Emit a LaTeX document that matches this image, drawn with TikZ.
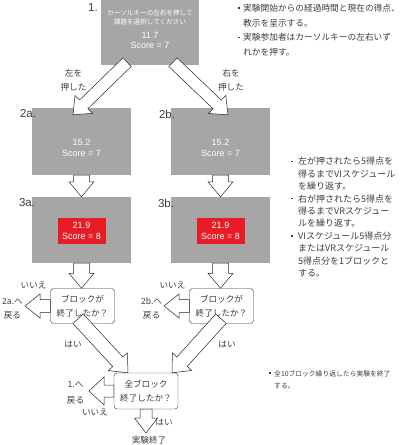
\documentclass[tikz,border=0pt]{standalone}
\usepackage{fontspec}
\setmainfont{Liberation Sans}
\newfontfamily\jp{Noto Sans CJK JP}
\usepackage{tikz}
\usetikzlibrary{calc,positioning}

\definecolor{boxgray}{RGB}{166,166,166}
\definecolor{boxred}{RGB}{232,28,36}
\definecolor{inkgray}{RGB}{60,60,60}

\newcommand{\jpsize}[2]{\jp\fontsize{#1}{#2}\selectfont}
\newcommand{\nb}[1][5pt]{\makebox[#1][l]{\rule[0.3em]{1.6pt}{1.6pt}}}
\newcommand{\nbskip}[1][5pt]{\hspace*{#1}}
% block arrow: from, to, shaft half width, head half width
\newcommand{\blockarrow}[4]{%
  \coordinate (ba-s) at (#1);
  \coordinate (ba-t) at (#2);
  \coordinate (ba-b) at ($(ba-t)!15pt!(ba-s)$);
  \draw[blockarr] ($(ba-s)!#3!90:(ba-t)$) -- ($(ba-b)!#3!-90:(ba-s)$)
    -- ($(ba-b)!#4!-90:(ba-s)$) -- (ba-t) -- ($(ba-b)!#4!90:(ba-s)$)
    -- ($(ba-b)!#3!90:(ba-s)$) -- ($(ba-s)!#3!-90:(ba-t)$) -- cycle;
}

\begin{document}
\begin{tikzpicture}[x=1pt,y=-1pt,
    graybox/.style={fill=boxgray,inner sep=0pt,minimum width=99pt,minimum height=66pt},
    redbox/.style={fill=boxred,inner sep=0pt,minimum width=48pt,minimum height=26pt},
    boxnum/.style={text=white,align=center,inner sep=0pt,font=\fontsize{9}{11}\selectfont},
    askbox/.style={draw=black!80,rounded corners=3pt,fill=white,minimum width=64pt,
      minimum height=35pt,inner sep=0pt,align=center,text=inkgray,font=\jpsize{8.6}{14}},
    steplabel/.style={text=inkgray,inner sep=0pt,font=\fontsize{11.5}{12}\selectfont},
    note/.style={text=inkgray,inner sep=0pt,align=center,font=\jpsize{8.6}{14}},
    notelist/.style={text=inkgray,inner sep=0pt,align=left,anchor=north west},
    blockarr/.style={draw=black!85,fill=white,line width=0.5pt}]
  \useasboundingbox (0,0) rectangle (400,445);

  % 1. start screen
  \node[graybox,minimum width=98pt,minimum height=65pt] (start) at (150,32.5) {};
  \node[boxnum,font=\jpsize{6.6}{9}] (startmsg) at (150,17.5)
    {カーソルキーの左右を押して\\課題を選択してください};
  \node[boxnum,font=\fontsize{9}{10}\selectfont] (starttime) at (150,40) {11.7\\Score = 7};
  \node[steplabel] (lab1) at (93,8) {1.};

  % 2./3. both schedules
  \foreach \s/\x in {a/81.5,b/220.5}{
    \node[graybox,minimum height=67pt] (wait\s) at (\x,141.5) {};
    \node[boxnum] (waitnum\s) at (\x,147.5) {15.2\\Score = 7};
    \node[steplabel] (labwait\s) at ({\x-53.5},114) {2\s.};
    \node[graybox] (hit\s) at (\x,230) {};
    \node[redbox] (hitred\s) at (\x,231) {};
    \node[boxnum] (hitnum\s) at (\x,231) {21.9\\Score = 8};
    \node[steplabel] (labhit\s) at ({\x-54.5},203) {3\s.};
    \node[askbox] (ask\s) at ({\x+1},306) {ブロックが\\終了したか？};
    \node[note] (no\s) at ({\x-48},285) {いいえ};
    \node[note,font=\jpsize{8.6}{13.5}] (back\s) at ({\x-69},308.5) {2\s.へ\\戻る};
    \coordinate (backtip\s) at ({\x-56.5},306);
    \blockarrow{wait\s.south}{hit\s.north}{8pt}{12.5pt}
    \blockarrow{hit\s.south}{hit\s.south |- ask\s.north}{8pt}{12.5pt}
    \blockarrow{ask\s.west}{backtip\s}{6.5pt}{12pt}
  }

  % choice arrows
  \blockarrow{$(start.south)+(-23,-3)$}{$(waita.north)+(-8.5,7)$}{6pt}{12.5pt}
  \blockarrow{$(start.south)+(23,-3)$}{$(waitb.north)+(7.5,7)$}{6pt}{12.5pt}
  \node[note] (pushleft) at (73.5,80) {左を\\押した};
  \node[note] (pushright) at (231,80) {右を\\押した};

  % all blocks done?
  \node[askbox,minimum height=36pt] (allend) at (146,391) {全ブロック\\終了したか？};
  \blockarrow{$(aska.south)+(-4.5,-5)$}{$(allend.north)+(-18,0)$}{7pt}{13pt}
  \blockarrow{$(askb.south)+(-0.5,-5)$}{$(allend.north)+(26,0)$}{7pt}{13pt}
  \node[note] (yesa) at (73,344) {はい};
  \node[note] (yesb) at (227,344) {はい};

  \coordinate (backtipall) at (89,391);
  \coordinate (finish) at (146,433);
  \blockarrow{allend.west}{backtipall}{6pt}{14pt}
  \blockarrow{allend.south}{finish}{6pt}{11.5pt}
  \node[note,font=\jpsize{8.6}{16}] (backall) at (75.5,392.5) {1.へ\\戻る};
  \node[note] (noall) at (95,412) {いいえ};
  \node[note] (yesall) at (164,422) {はい};
  \node[note] (endtxt) at (149,440) {実験終了};

  % notes
  \node[notelist,font=\jpsize{8.7}{14.7}] (note1) at (238,4)
    {\nb 実験開始からの経過時間と現在の得点、\\\nbskip 教示を呈示する。\\
     \nb 実験参加者はカーソルキーの左右いず\\\nbskip れかを押す。};
  \node[notelist,font=\jpsize{9}{12.4}] (note2) at (291,157)
    {\nb[7pt]左が押されたら5得点を\\\nbskip[7pt]得るまでVIスケジュール\\\nbskip[7pt]を繰り返す。\\
     \nb[7pt]右が押されたら5得点を\\\nbskip[7pt]得るまでVRスケジュー\\\nbskip[7pt]ルを繰り返す。\\
     \nb[7pt]VIスケジュール5得点分\\\nbskip[7pt]またはVRスケジュール\\\nbskip[7pt]5得点分を1ブロックと\\\nbskip[7pt]する。};
  \node[notelist,font=\jpsize{6.8}{12}] (note3) at (269,370)
    {\nb 全10ブロック繰り返したら実験を終了\\\nbskip する。};
\end{tikzpicture}
\end{document}
